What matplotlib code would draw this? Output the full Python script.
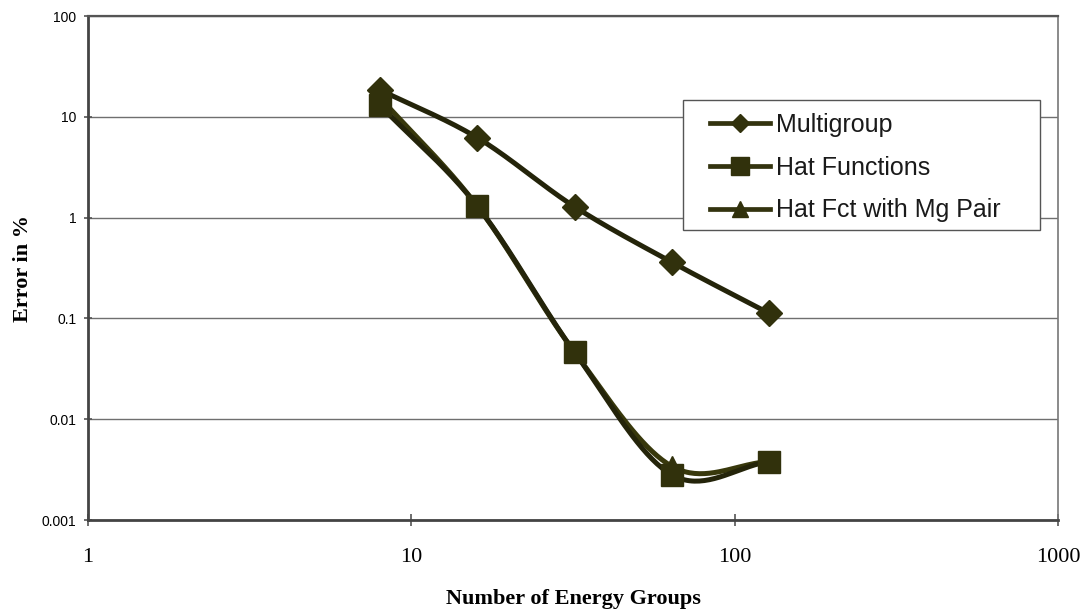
#!/usr/bin/env python3

import numpy as np
import matplotlib
matplotlib.use("Agg")
import matplotlib.pyplot as plt
from matplotlib.patches import Rectangle
from matplotlib.ticker import FixedLocator, NullLocator

groups = [8, 16, 32, 64, 128]
multigroup = [18.5, 6.2, 1.28, 0.36, 0.112]
hat_functions = [13.0, 1.30, 0.046, 0.0028, 0.0038]
hat_fct_mg_pair = [15.5, 1.30, 0.046, 0.0034, 0.0038]

y_ticks = [0.001, 0.01, 0.1, 1, 10, 100]
y_tick_labels = ["0.001", "0.01", "0.1", "1", "10", "100"]
x_ticks = [1, 10, 100, 1000]
x_tick_labels = ["1", "10", "100", "1000"]


def smooth(xs, ys, n=40):
    # Catmull-Rom through the points in log-log space, like a spreadsheet smoothed line
    lx = np.log10(xs)
    ly = np.log10(ys)
    px = np.concatenate([[2 * lx[0] - lx[1]], lx, [2 * lx[-1] - lx[-2]]])
    py = np.concatenate([[2 * ly[0] - ly[1]], ly, [2 * ly[-1] - ly[-2]]])
    outx, outy = [], []
    t = np.linspace(0, 1, n)
    for i in range(1, len(px) - 2):
        for p, out in ((px, outx), (py, outy)):
            p0, p1, p2, p3 = p[i - 1], p[i], p[i + 1], p[i + 2]
            seg = 0.5 * ((2 * p1) + (-p0 + p2) * t
                         + (2 * p0 - 5 * p1 + 4 * p2 - p3) * t ** 2
                         + (-p0 + 3 * p1 - 3 * p2 + p3) * t ** 3)
            out.extend(seg)
    return 10 ** np.array(outx), 10 ** np.array(outy)


W, H = 1087, 612
fig = plt.figure(figsize=(W / 100, H / 100), dpi=100)
ax = fig.add_axes([88 / W, 1 - 520 / H, 970 / W, 504 / H])

line_col = "#24240a"
mark_col = "#31310c"

# series, marker, plot marker size, legend marker size, label, line colour
series = [
    (hat_fct_mg_pair, "^", 15, 12, "Hat Fct with Mg Pair", "#38380c"),
    (hat_functions, "s", 16, 12.5, "Hat Functions", line_col),
    (multigroup, "D", 13.5, 9, "Multigroup", line_col),
]
handles = {}
for ys, mk, ms, lms, label, col in series:
    sx, sy = smooth(groups, ys)
    ax.plot(sx, sy, color=col, lw=3.6, solid_capstyle="round", zorder=3)
    ax.plot(groups, ys, linestyle="none", marker=mk, ms=ms,
            color=mark_col, mec=mark_col, zorder=4)
    handles[label] = ax.plot([], [], color="#33330f", lw=3.4, marker=mk, ms=lms,
                             mfc=mark_col, mec=mark_col)[0]

ax.set_xscale("log")
ax.set_yscale("log")
ax.set_xlim(1, 1000)
ax.set_ylim(0.001, 100)

ax.yaxis.set_major_locator(FixedLocator(y_ticks))
ax.yaxis.set_minor_locator(NullLocator())
ax.set_yticklabels(y_tick_labels, fontsize=10, family="Liberation Sans")
ax.xaxis.set_major_locator(FixedLocator(x_ticks))
ax.xaxis.set_minor_locator(NullLocator())
ax.set_xticklabels(x_tick_labels, fontsize=16, family="Liberation Serif")
ax.tick_params(axis="y", direction="inout", length=6, width=1.2, color="#555555", pad=5.5)
ax.tick_params(axis="x", direction="inout", length=8, width=1.2, color="#555555", pad=16)

ax.grid(axis="y", color="#6f6f6f", lw=1.0)
for side in ("left", "bottom"):
    ax.spines[side].set_color("#444444")
    ax.spines[side].set_linewidth(2.0)
ax.spines["top"].set_color("#555555")
ax.spines["top"].set_linewidth(1.6)
ax.spines["right"].set_color("#777777")
ax.spines["right"].set_linewidth(1.2)

ax.set_xlabel("Number of Energy Groups", fontsize=16, fontweight="bold",
              family="Liberation Serif", labelpad=16)
ax.set_ylabel("Error in %", fontsize=16, fontweight="bold",
              family="Liberation Serif", labelpad=6)

# legend box drawn separately so it can have wide side margins
to_ax = ax.transAxes.inverted()
(bx0, by0), (bx1, by1) = to_ax.transform([(683, H - 230), (1040, H - 100)])
box = Rectangle((bx0, by0), bx1 - bx0, by1 - by0, transform=ax.transAxes,
                facecolor="white", edgecolor="#555555", lw=1.0, zorder=5)
ax.add_patch(box)

order = ["Multigroup", "Hat Functions", "Hat Fct with Mg Pair"]
lx, ly = to_ax.transform((700, H - 103))
leg = ax.legend([handles[k] for k in order], order,
                loc="upper left", bbox_to_anchor=(lx, ly),
                prop={"family": "Liberation Sans", "size": 18},
                frameon=False, handlelength=2.4, handletextpad=0.25,
                borderpad=0.4, labelspacing=0.75, borderaxespad=0)
leg.set_zorder(6)
for t in leg.get_texts():
    t.set_color("#1a1a1a")

plt.savefig("out.png", dpi=100)
